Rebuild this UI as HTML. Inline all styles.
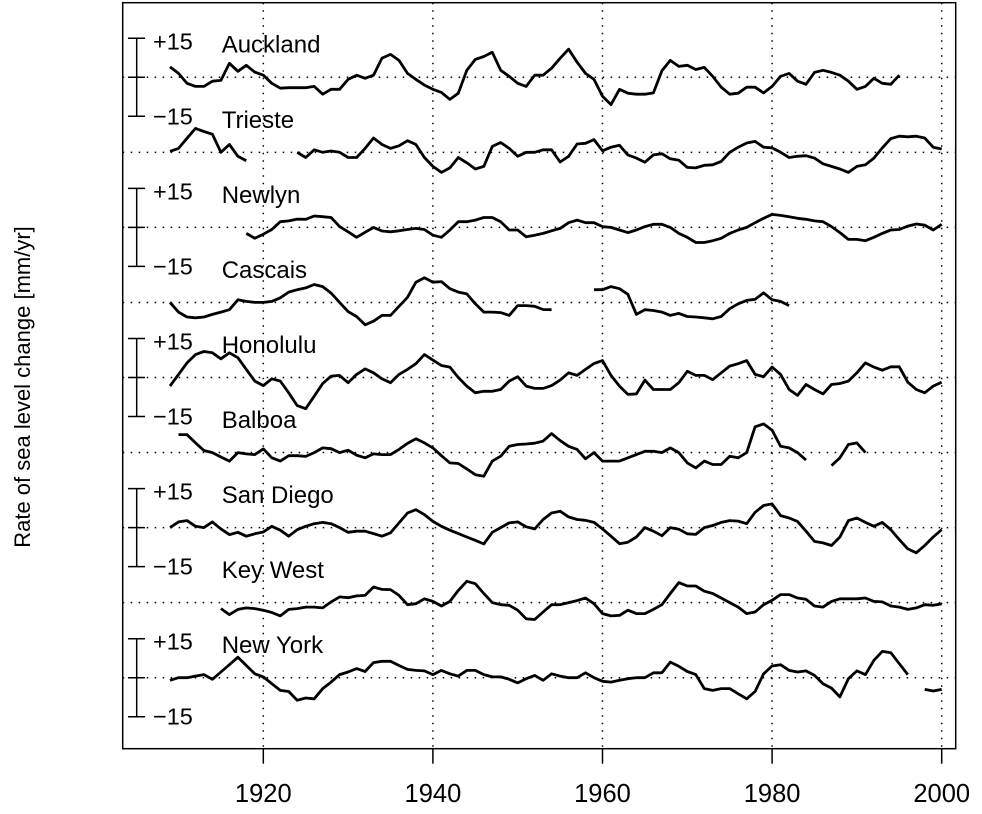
<!DOCTYPE html>
<html><head><meta charset="utf-8"><style>
html,body{margin:0;padding:0;background:#fff;}
svg{display:block;font-family:"Liberation Sans",Arial,sans-serif;}
</style></head><body>
<svg id="chart" width="982" height="814" viewBox="0 0 982 814" xmlns="http://www.w3.org/2000/svg">
<rect x="122.7" y="2.7" width="833" height="746" fill="none" stroke="#000" stroke-width="1.5"/>
<g id="grid"></g>
<g id="series"></g>
<g id="axis"></g>
<text transform="translate(30,387) rotate(-90)" text-anchor="middle" font-size="22">Rate of sea level change [mm/yr]</text>
</svg>
<script>
const stationNames = ["Auckland","Trieste","Newlyn","Cascais","Honolulu","Balboa","San Diego","Key West","New York"];
const xTicks = [1920,1940,1960,1980,2000];
const scaleLabels = ["+15","\u221215"];
const aucklandStart = 1909;
const aucklandValues = [4,1.5,-2.3,-3.5,-3.5,-1.5,-1.2,5.4,2.3,4.6,2,0.8,-2.3,-4.2,-4,-4,-4,
-3.5,-6.5,-4.6,-4.6,-0.8,0.8,-0.4,0.8,7.4,8.8,6.5,1.5,-0.8,-3,-4.6,-5.8,-8.5,-6.1,2.7,6.9,8,9.6,2.7,0.4,-2.3,-3.5,0.8,0.8,
3.5,7.3,10.8,5.8,1.5,-0.8,-7.3,-10.5,-4.6,-6.1,-6.5,-6.5,-6,2.5,6.5,4.2,4.6,3,3.8,0.4,-3.8,-6.5,-6.1,-3.8,-3.8,-6,-3.5,0.4,1.5,-1.5,-2.7,1.9,2.7,1.9,0.8,-1.5,-4.6,-3.5,-0.4,-2.3,-2.7,0.8];
const triesteStart = 1909;
const triesteValues = [0.4,1.5,5.4,9.2,8,7,0,3,-1.5,-3.2,null,null,null,null,null,
0,-2,1,0,0.5,0,-2,-2,1.5,5.5,3,1.5,2.5,4.5,3,-2,-5.4,-7.7,-6,-2,-4,-6.4,-5.4,2.3,3.8,1.5,-1.5,0,0,1,
1,-3.7,-1.5,3.2,3.5,4.9,0.6,2,2.7,-1,-2.2,-3.8,-1,-0.5,-2.5,-3,-5.8,-6,-5,-4.8,-3.5,0,2,3.6,4.2,2,1.7,0,-2,-1.5,-1.3,-2.2,-4.4,-5.4,-6.4,-7.7,-5.4,-4.8,-2.2,1.7,5.3,6.2,6,6.2,5.5,2,1.3];
const newlynStart = 1918;
const newlynValues = [-2.3,-4.2,-2.6,-0.8,2.2,2.5,3.2,3.1,4.4,4.1,3.8,0.3,-1.7,-3.8,-1.9,0,-1.4,-1.7,-1.3,-0.8,-0.4,-0.8,-3,-3.8,-1,2.2,2.2,2.8,3.8,3.8,2.2,-1,-1,-3.6,-3,-2.3,
-1.3,-0.4,1.8,2.8,1.8,1.8,0.3,0,-1,-2,-1,0.3,1.2,1.2,0,-2.3,-3.8,-5.8,-5.8,-5.1,-4.2,-2.3,-1,0,1.8,3.5,5,4.6,4.1,3.5,3.1,2.5,2.2,0.3,-2,-4.6,-4.6,-5.1,-3.8,-2.3,-1,-0.8,0.5,1.3,0.9,-1,1.2];
const cascaisStart = 1909;
const cascaisValues = [0,-3.7,-5.6,-5.9,-5.6,-4.6,-3.7,-2.8,1,0.4,0,0,0.4,1.8,4,4.9,5.6,6.9,6.1,3.6,0,-3.5,-5.4,-8.6,-7.2,-5,-5,-1.5,2,7.8,9.5,7.8,8,5.3,4,3.3,-0.5,-3.7,-3.7,-3.9,-5,-1.2,-1.2,-1.5,-2.7,-2.8,
null,null,null,null,
4.9,4.9,6.1,5.3,3.1,-4.6,-2.8,-3.1,-3.7,-5,-4.2,-5.4,-5.6,-5.9,-6.3,-5.4,-2.4,-0.5,0.8,1.2,3.7,1,0.4,-1.2];
const honoluluStart = 1909;
const honoluluValues = [-3.3,1.2,5.6,8.8,10,9.5,7.2,9.5,7.6,3.1,-1.4,-3.1,-0.5,-1.4,-5.9,-10.8,-12,-7.2,-2.3,0.5,0.8,-2,1.2,3.3,1.8,-0.5,-2,1.2,3.1,5.3,8.8,6.7,4.6,4,0,-3.3,-5.9,-5.3,-5.3,-4.6,-1.4,0.3,-3.3,-4.2,-4.2,
-3.1,-1,1.8,0.8,3.1,5.4,
6.5,0.8,-3.3,-6.5,-6.3,-1,-4.6,-4.6,-4.6,-2,2.4,0.8,0.8,-0.8,1.8,4.4,5.3,6.5,1.2,0.3,4,1.2,-4.6,-6.9,-2.7,-4.6,-6.3,-2.7,-2.3,-1.4,1.8,5.6,4,2.8,4.1,4.1,-1.8,-4.6,-5.9,-3.3,-1.8];
const balboaStart = 1910;
const balboaValues = [6.9,6.9,3.7,0.8,0,-1.7,-3.3,0,-0.5,-0.8,1.4,-2,-3.3,-1.2,-1.2,-1.5,0,1.8,1.5,0,0.9,-1,-2,-0.5,-0.8,-0.8,1.2,3.5,5.3,3.7,1.8,-1.2,-4,-4.2,-6.3,-8.5,-9.1,
-3.3,-1.4,2.4,3.1,3.3,3.6,4.4,7.3,4.6,2.4,1.2,-2.4,0,-3.3,-3.3,-3.3,-2,-0.8,0.5,0.5,0,1.8,0,-4,-5.9,-3.3,-4.6,-4.6,-1.4,-2,0,9.9,11,8.6,2.4,1.8,0,-2.9,
null,null,-5,-2,3.1,3.7,0];
const sanDiegoStart = 1909;
const sanDiegoValues = [0,2.2,2.7,0.5,0,2.2,-0.5,-2.7,-1.8,-3.3,-2.4,-1.7,0.5,-1,-3.3,-0.8,0.5,1.5,2,1.5,0,-1.8,-1.4,-1.4,-2.3,-3.3,-2,1.8,5.6,6.9,5,2.4,0.5,-1,-2.3,-3.6,-4.9,-6.3,-1.8,0,1.8,2.2,0.3,-0.5,3.1,5.6,
6.3,4.1,3.1,2.8,2,-0.5,-3.3,-6.2,-5.6,-3.6,0,-1.4,-3.1,0,-0.6,-2.4,-2.6,0,0.8,2,2.7,2.5,1.5,5.9,8.5,9.1,4.6,3.7,2.4,-1.4,-5.3,-5.9,-6.9,-3.6,2.7,3.7,2,0.5,2,-0.8,-4.6,-8.2,-9.7,-6.9,-3.6,-0.8];
const keyWestStart = 1915;
const keyWestValues = [-2.3,-4.6,-2.6,-2,-2.3,-2.9,-3.8,-5.1,-2.6,-2.3,-1.7,-1.7,-2,0.3,2.2,1.9,2.6,2.8,6,5.1,5,2.8,-0.8,-0.4,1.5,0.5,-1.3,0.5,4.7,8.2,7.3,3.5,0,-0.8,-1,-2.9,-6.2,-6.5,-3.6,-0.8,
-0.8,0,0.8,1.8,-0.4,-4.2,-5.1,-4.9,-2.9,-4.2,-4.2,-2.6,-0.8,3.5,7.7,6.4,6.4,4.4,3.5,1.8,0,-1.7,-4.2,-3.6,-0.8,0.9,3.1,3.1,1.8,1.3,-1.3,-1.7,0.5,1.5,1.5,1.5,1.8,0.5,0.3,-1.3,-1.7,-2.6,-2,-0.8,-1,-0.5];
const newYorkStart = 1909;
const newYorkValues = [-1,0,0,0.6,1.2,-0.6,2.2,5,7.9,4.7,1.5,0.3,-2.3,-4.9,-5.3,-8.7,-7.8,-8.1,-4.2,-1.7,1.2,2.2,3.5,2.4,5.8,6.3,6.3,4.7,3.2,2.8,2.6,1.2,2.8,1.5,0.6,2.8,2.8,1.2,0.3,0.3,-0.6,-2,-0.4,0.9,-1,1.5,
0.6,0,0,1.9,0,-1.4,-1.7,-1,-0.4,0,0,1.9,1.9,6,4.4,2.4,1.2,-4.2,-4.9,-4.2,-4.2,-6.2,-8.1,-5.3,1.5,4.5,5,2.8,2.2,2.6,0.9,-2.3,-4,-7.4,-0.4,2.6,1.2,6.7,10.1,9.6,5.4,1.2,null,-4.5,-5.1,-4.5];

const stationStarts = [aucklandStart,triesteStart,newlynStart,cascaisStart,honoluluStart,balboaStart,sanDiegoStart,keyWestStart,newYorkStart];
const stationValues = [aucklandValues,triesteValues,newlynValues,cascaisValues,honoluluValues,balboaValues,sanDiegoValues,keyWestValues,newYorkValues];

const SVGNS = "http://www.w3.org/2000/svg";
const plotLeft = 122.7, plotRight = 955.7, plotTop = 2.7, plotBottom = 748.7;
function xScale(year){ return 263.3 + (year - 1920) * 8.48; }
function baseY(i){ return 77.3 + i * 75.05; }
function yScale(i, v){ return baseY(i) - v * 2.6; }
function mk(tag, attrs, parent){ const e = document.createElementNS(SVGNS, tag); for (const k in attrs) e.setAttribute(k, attrs[k]); parent.appendChild(e); return e; }

const gridG = document.getElementById('grid');
const seriesG = document.getElementById('series');
const axisG = document.getElementById('axis');

xTicks.forEach(t => {
  const x = xScale(t);
  const g = mk('line', {x1:x, x2:x, y1:plotTop, y2:plotBottom, stroke:'#000', 'stroke-width':1.5, 'stroke-dasharray':'1.5 6'}, gridG);
  
  
  const tk = mk('line', {x1:x, x2:x, y1:plotBottom, y2:plotBottom+15, stroke:'#000', 'stroke-width':1.5}, axisG);
  
  
  const lb = mk('text', {x:x, y:802, 'text-anchor':'middle', 'font-size':25.5}, axisG);
  lb.textContent = t;
  
  
});

stationNames.forEach((name, i) => {
  const b = baseY(i);
  const h = mk('line', {x1:plotLeft, x2:plotRight, y1:b, y2:b, stroke:'#000', 'stroke-width':1.5, 'stroke-dasharray':'1.5 6.5'}, gridG);
  
  

  const nl = mk('text', {x:221.7, y:b - 24.6, 'font-size':24}, seriesG);
  nl.textContent = name;
  
  

  if (i % 2 === 0) {
    const br = mk('g', {stroke:'#000', 'stroke-width':1.5}, seriesG);
    
    
    mk('line', {x1:136.7, x2:136.7, y1:b-39, y2:b+39}, br);
    [-39, 0, 39].forEach(d => mk('line', {x1:128, x2:145, y1:b+d, y2:b+d}, br));
    const p = mk('text', {x:153, y:b - 28, 'font-size':23.5}, seriesG);
    p.textContent = scaleLabels[0];
    
    
    const m = mk('text', {x:153, y:b + 47, 'font-size':23.5}, seriesG);
    m.textContent = scaleLabels[1];
    
    
  }

  const vals = stationValues[i], st = stationStarts[i];
  let d = '', pen = false;
  vals.forEach((v, k) => {
    if (v === null) { pen = false; return; }
    const x = xScale(st + k).toFixed(1), y = yScale(i, v).toFixed(1);
    d += (pen ? 'L' : 'M') + x + ' ' + y + ' ';
    pen = true;
  });
  const path = mk('path', {d:d, fill:'none', stroke:'#000', 'stroke-width':2.8, 'stroke-linejoin':'round'}, seriesG);
  
  
});
</script>
</body></html>
